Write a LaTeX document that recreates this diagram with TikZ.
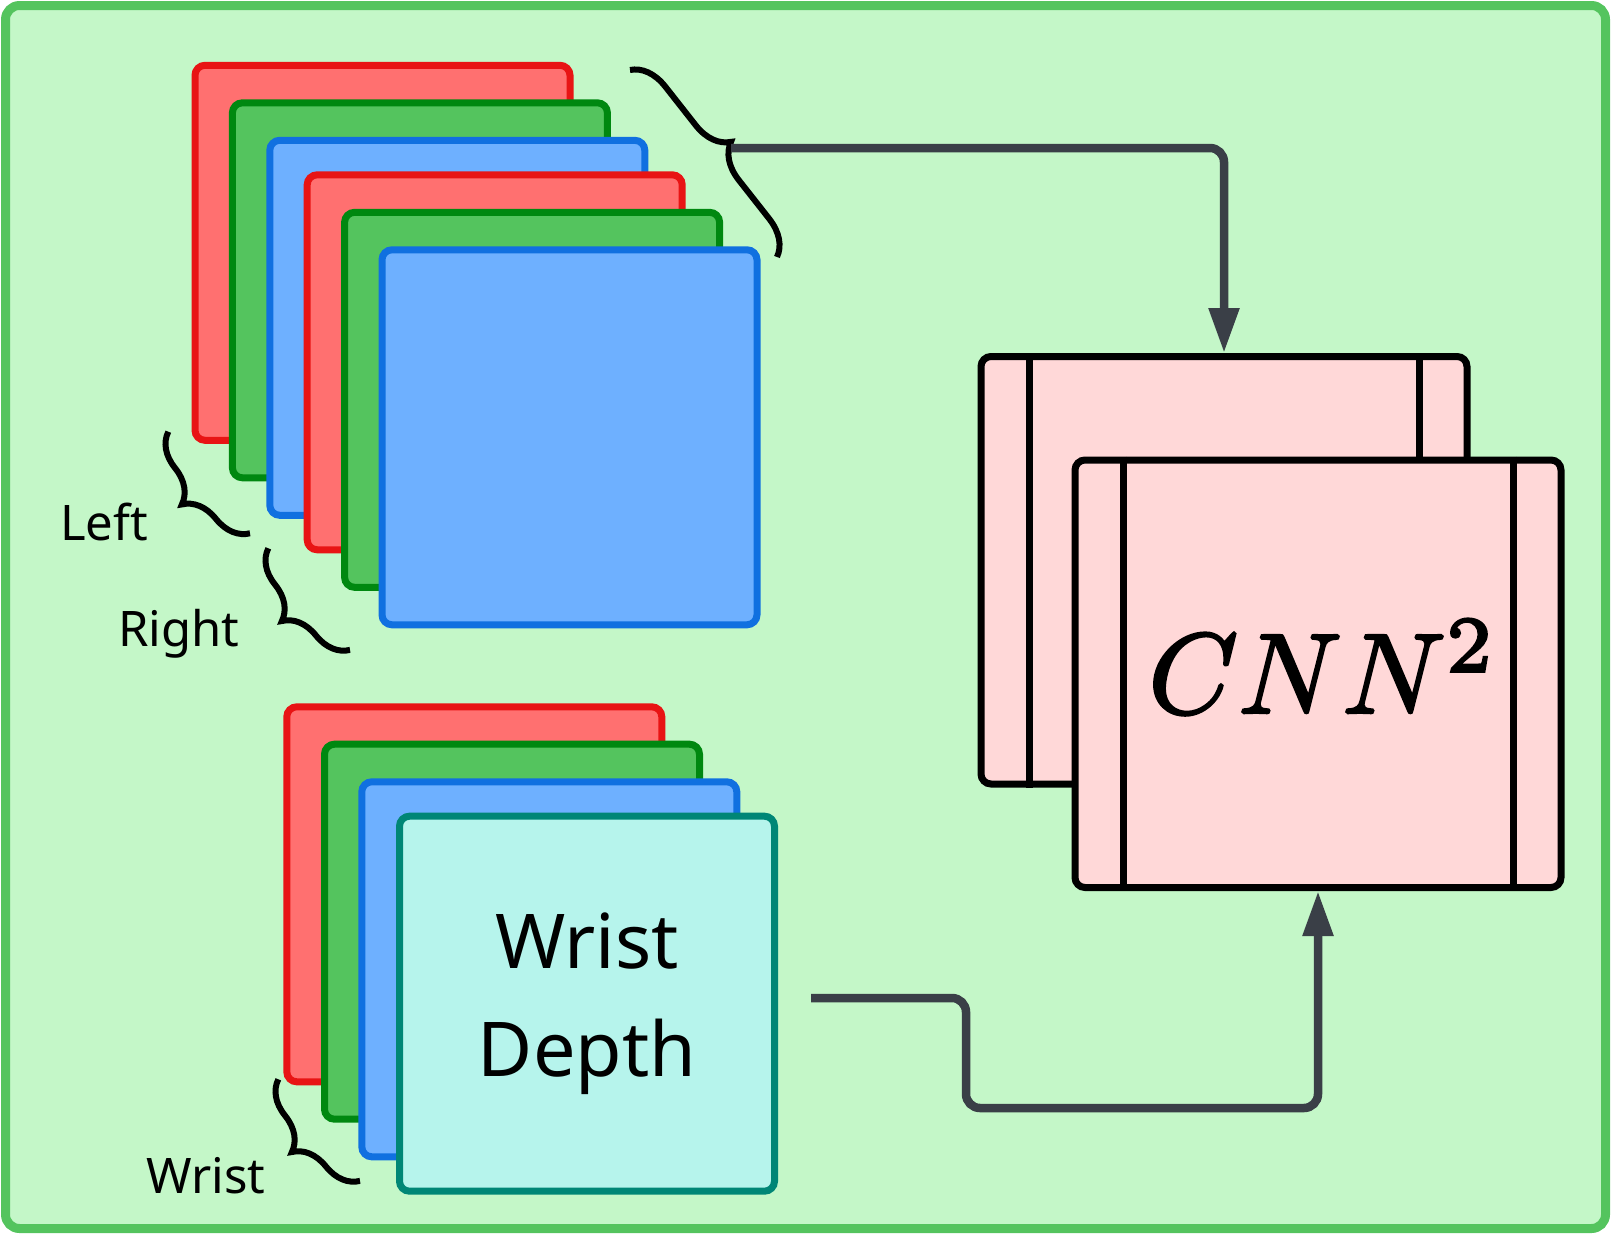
\documentclass[tikz,border=0pt]{standalone}
\usepackage{fontspec}
\newfontfamily\labelfont{Noto Sans}
\usetikzlibrary{arrows.meta,decorations.pathreplacing,calc}
\definecolor{bggreen}{HTML}{C4F7C8}
\definecolor{framegreen}{HTML}{54C45E}
\definecolor{redfill}{HTML}{FF7070}
\definecolor{redline}{HTML}{E81414}
\definecolor{greenfill}{HTML}{54C45E}
\definecolor{greenline}{HTML}{008810}
\definecolor{bluefill}{HTML}{6EB0FF}
\definecolor{blueline}{HTML}{1070E0}
\definecolor{tealfill}{HTML}{B6F4EC}
\definecolor{tealline}{HTML}{008676}
\definecolor{pinkfill}{HTML}{FFD8D8}
\definecolor{arrowgray}{HTML}{3A3F47}
\tikzset{
  card/.style={rectangle, rounded corners=10pt, line width=7pt, minimum width=375pt, minimum height=375pt, inner sep=0pt},
  redcard/.style={card, draw=redline, fill=redfill},
  greencard/.style={card, draw=greenline, fill=greenfill},
  bluecard/.style={card, draw=blueline, fill=bluefill},
  tealcard/.style={card, draw=tealline, fill=tealfill},
  cnnbox/.style={rectangle, rounded corners=10pt, line width=7pt, draw=black, fill=pinkfill, minimum width=486pt, minimum height=427.5pt, inner sep=0pt},
  cnnbar/.style={draw=black, line width=7pt},
  brc/.style={decorate, decoration={brace, amplitude=35pt}, line width=6pt, draw=black},
  arr/.style={draw=arrowgray, line width=8.5pt, rounded corners=14pt, -{Triangle[length=45pt,width=29pt]}},
  lbl/.style={anchor=base, inner sep=0pt, font=\labelfont\fontsize{49}{58}\selectfont}
}
\begin{document}
\begin{tikzpicture}[x=1pt,y=-1pt]
\useasboundingbox (0,0) rectangle (1611,1234);
\draw[line width=9pt, draw=framegreen, fill=bggreen, rounded corners=14pt] (5.5,5.5) rectangle (1605.5,1228.5);

% top stack
\node[redcard] (c1) at (382.5,252.8) {};
\node[greencard] (c2) at (419.9,290.3) {};
\node[bluecard] (c3) at (457.3,327.8) {};
\node[redcard] (c4) at (494.7,362.3) {};
\node[greencard] (c5) at (532.1,399.8) {};
\node[bluecard] (c6) at (569.5,437.3) {};

% wrist stack
\node[redcard] (w1) at (474.3,894.3) {};
\node[greencard] (w2) at (512,931.7) {};
\node[bluecard] (w3) at (549.3,969.3) {};
\node[tealcard, align=center, font=\labelfont\fontsize{75.6}{108}\selectfont] (w4) at (587,1003.7) {Wrist\\Depth};

% CNN boxes
\node[cnnbox] (back) at (1224,570.25) {};
\draw[cnnbar] ($(back.north west)+(51.5,0)$) -- ($(back.south west)+(51.5,0)$);
\draw[cnnbar] ($(back.north east)+(-51.5,0)$) -- ($(back.south east)+(-51.5,0)$);
\node[cnnbox] (front) at (1318,673.75) {};
\draw[cnnbar] ($(front.north west)+(51.5,0)$) -- ($(front.south west)+(51.5,0)$);
\draw[cnnbar] ($(front.north east)+(-51.5,0)$) -- ($(front.south east)+(-51.5,0)$);
\node[anchor=base, inner sep=0pt, font=\fontsize{10}{12}\selectfont] (cnn) at (1323,713) {\scalebox{11.4}{\special{pdf:literal q 2 Tr 0.22 w 0 0 0 RG}$CNN^{2}$\special{pdf:literal Q}}};

% braces
\coordinate (tbA) at (630,70);
\coordinate (tbB) at (777,257);
\draw[brc] (tbA) -- (tbB);
\coordinate (lbA) at (168.3,431.7);
\coordinate (lbB) at (250,533.3);
\draw[brc] (lbB) -- (lbA);
\coordinate (rbA) at (268.3,548.3);
\coordinate (rbB) at (350,649.9);
\draw[brc] (rbB) -- (rbA);
\coordinate (wbA) at (278.3,1079.3);
\coordinate (wbB) at (360,1180.9);
\draw[brc] (wbB) -- (wbA);

% labels
\node[lbl] (lleft) at (104,540) {Left};
\node[lbl] (lright) at (179,646) {Right};
\node[lbl] (lwrist) at (206,1193) {Wrist};

% arrows
\coordinate (tbTip) at (731,148);
\draw[arr] (tbTip) -| (back.north);
\coordinate (wstart) at (811,998);
\coordinate (wbend) at (966,1108);
\draw[arr] (wstart) -| (wbend) -| (front.south);
\end{tikzpicture}
\end{document}
